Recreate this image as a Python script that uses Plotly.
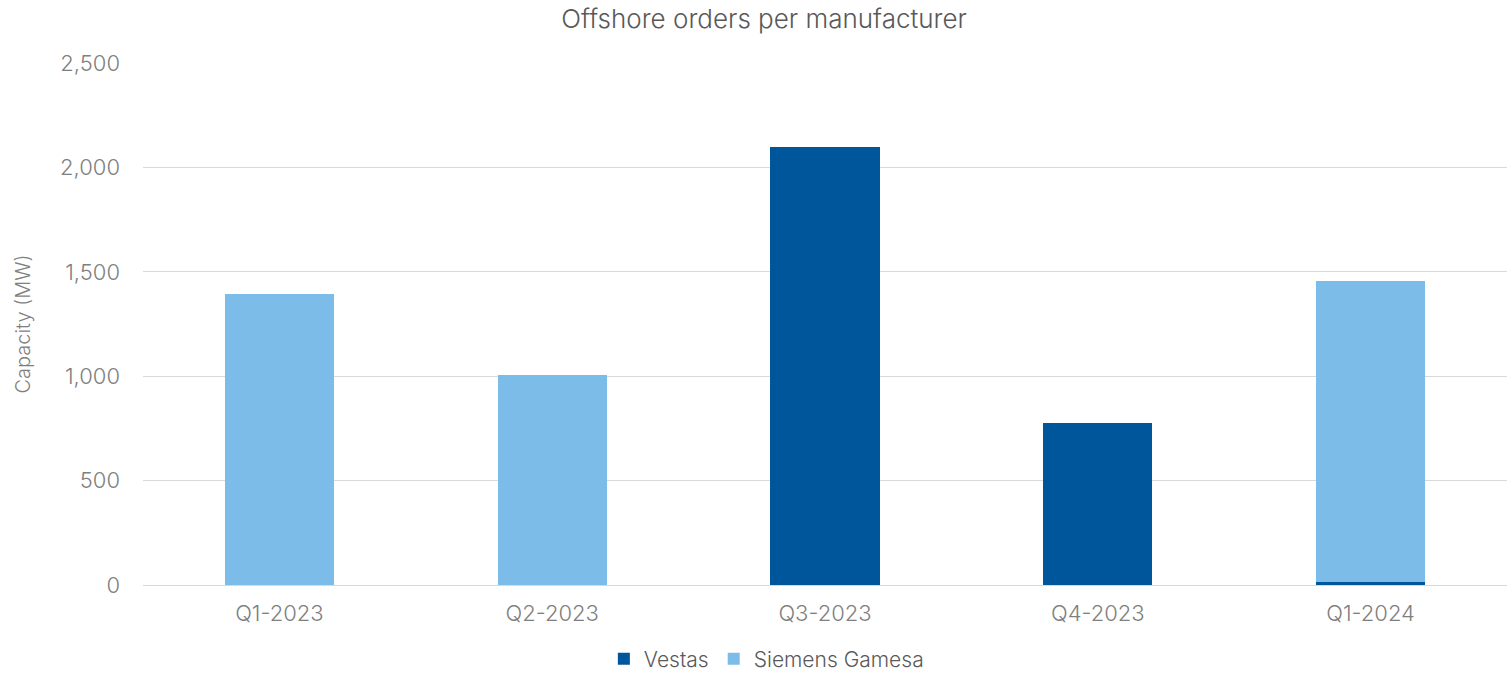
import plotly.graph_objects as go

categories = ["Q1-2023", "Q2-2023", "Q3-2023", "Q4-2023", "Q1-2024"]
vestas = [0, 0, 2098, 777, 14]
siemens = [1394, 1006, 0, 0, 1442]
y_ticks = [0, 500, 1000, 1500, 2000, 2500]
y_tick_text = ["0", "500", "1,000", "1,500", "2,000", "2,500"]

font_family = "Inter, Noto Sans, sans-serif"

fig = go.Figure()
fig.add_trace(go.Bar(x=categories, y=vestas, name="Vestas", marker_color="#00569A",
                     marker_line_width=0))
fig.add_trace(go.Bar(x=categories, y=siemens, name="Siemens Gamesa", marker_color="#7BBDE8",
                     marker_line_width=0))

fig.update_layout(
    barmode="stack",
    bargap=0.6,
    width=1507, height=675,
    margin=dict(l=143, r=0, t=63, b=90, autoexpand=False),
    paper_bgcolor="white", plot_bgcolor="white",
    font=dict(family=font_family, color="#7f7f7f", weight=300),
    title=dict(text="Offshore orders per manufacturer", x=0.507, xanchor="center",
               y=0.972, yanchor="middle",
               font=dict(size=26, color="#595959", family=font_family, weight=300)),
    legend=dict(orientation="h", x=0.457, xanchor="center", y=-0.142, yanchor="middle",
                font=dict(size=21, color="#595959", weight=300), traceorder="normal",
                itemwidth=30, tracegroupgap=0),
    yaxis=dict(range=[0, 2500], tickvals=y_ticks, ticktext=y_tick_text,
               showgrid=True, gridcolor="#d9d9d9", gridwidth=1,
               zeroline=False, showline=False, automargin=False,
               tickfont=dict(size=22, color="#7f7f7f", weight=300), ticks="",
               ticklabelstandoff=22,
               title=dict(text="Capacity (MW)", font=dict(size=20, color="#7f7f7f", weight=300),
                          standoff=24)),
    xaxis=dict(showline=True, linecolor="#d9d9d9", linewidth=1, ticks="",
               ticklabelstandoff=9, automargin=False,
               tickfont=dict(size=22, color="#7f7f7f", weight=300)),
)

fig.write_html("out.html")
